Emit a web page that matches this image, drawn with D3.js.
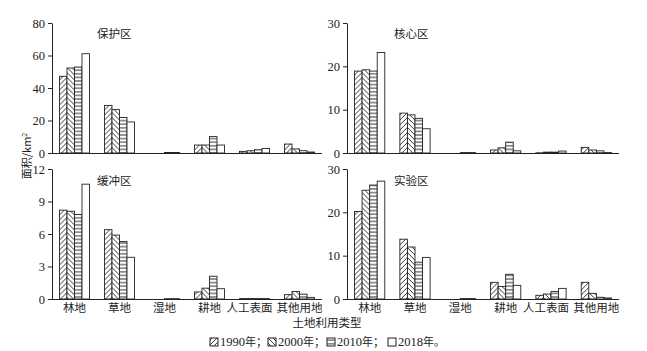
<!DOCTYPE html>
<html><head><meta charset="utf-8">
<script src="https://cdn.jsdelivr.net/npm/d3@7/dist/d3.min.js"></script>
<style>body{margin:0;background:#fff}svg{display:block}</style>
</head><body><svg id="c" width="647" height="351"></svg>
<script>
const categories = ["林地","草地","湿地","耕地","人工表面","其他用地"];
const years = ["1990年","2000年","2010年","2018年"];
const panelNames = ["保护区","核心区","缓冲区","实验区"];
const yMaxes = [80, 30, 12, 30];
const yTicks = [[0,20,40,60,80],[0,10,20,30],[0,3,6,9,12],[0,10,20,30]];
// values[category] = [1990, 2000, 2010, 2018]
const protectValues = [[47.2,52.3,52.9,61.1],[29.3,26.7,21.9,19.1],[0,0,0.3,0.3],[4.9,4.9,10.1,4.9],[1.0,1.4,2.0,2.8],[5.5,2.5,1.4,0.6]];
const coreValues = [[18.9,19.2,18.9,23.2],[9.2,8.8,8.0,5.6],[0,0,0.1,0.1],[0.7,1.2,2.5,0.5],[0.05,0.2,0.2,0.45],[1.3,0.7,0.5,0.1]];
const bufferValues = [[8.2,8.1,7.8,10.6],[6.4,5.9,5.3,3.85],[0,0,0.03,0.03],[0.65,1.0,2.1,0.95],[0.04,0.04,0.04,0.04],[0.4,0.7,0.45,0.15]];
const expValues = [[20.2,25.1,26.3,27.2],[13.8,12.0,8.5,9.6],[0,0,0.1,0.1],[3.85,2.9,5.7,3.15],[0.85,1.15,1.75,2.45],[3.85,1.3,0.4,0.25]];
const panelValues = [protectValues, coreValues, bufferValues, expValues];

const svg = d3.select("#c");
const defs = svg.append("defs");
const ink = "#222";
function hatch(id, w, h, d, color, sw){
  const p = defs.append("pattern").attr("id", id).attr("patternUnits","userSpaceOnUse")
    .attr("width", w).attr("height", h);
  p.append("rect").attr("width", w).attr("height", h).attr("fill", "#fff");
  p.append("path").attr("d", d).attr("stroke", color).attr("stroke-width", sw).attr("fill","none");
}
hatch("p1990", 5, 5, "M-1,6 L6,-1 M-1,1 L1,-1 M4,6 L6,4", ink, 0.9);
hatch("p2000", 5, 5, "M-1,-1 L6,6 M-1,4 L1,6 M4,-1 L6,1", ink, 0.9);
hatch("p2010", 4, 3.6, "M0,1.8 L4,1.8", "#444", 1.1);
const fills = ["url(#p1990)","url(#p2000)","url(#p2010)","#fff"];

const layouts = [
  {x0:52, x1:322, y0:153, y1:23, title:[97,34]},
  {x0:347, x1:619, y0:153, y1:23, title:[394,34]},
  {x0:52, x1:322, y0:299, y1:169, title:[97,181]},
  {x0:347, x1:619, y0:299, y1:169, title:[394,181]}
];
const numFont = "'Liberation Serif','DejaVu Serif',serif";
const cjkFont = "'Noto Sans CJK SC','Noto Sans CJK JP',sans-serif";

layouts.forEach((L, i) => {
  const g = svg.append("g");
  const x = d3.scaleBand().domain(categories).range([L.x0, L.x1]).paddingInner(0.333).paddingOuter(0.166);
  const xs = d3.scaleBand().domain(years).range([0, x.bandwidth()]);
  const y = d3.scaleLinear().domain([0, yMaxes[i]]).range([L.y0, L.y1]);

  const grp = g.selectAll("g.cat").data(categories).enter().append("g")
    .attr("transform", c => `translate(${x(c)},0)`);
  grp.selectAll("rect").data((c, ci) => panelValues[i][ci].map((v, yi) => ({v, yi})))
    .enter().append("rect")
    .attr("x", d => xs(years[d.yi]))
    .attr("width", xs.bandwidth())
    .attr("y", d => y(d.v))
    .attr("height", d => L.y0 - y(d.v))
    .attr("fill", d => fills[d.yi])
    .attr("stroke", ink).attr("stroke-width", 0.9);

  const ax = g.append("g").attr("transform", `translate(${L.x0},0)`)
    .call(d3.axisLeft(y).tickValues(yTicks[i]).tickSize(4).tickSizeOuter(0).tickPadding(3));
  ax.select(".domain").attr("stroke", ink);
  ax.selectAll(".tick line").attr("stroke", ink);
  ax.selectAll("text").attr("font-family", numFont).attr("font-size", 12.5).attr("fill", ink);

  g.append("line").attr("x1", L.x0).attr("x2", L.x1).attr("y1", L.y0 + 0.5).attr("y2", L.y0 + 0.5)
    .attr("stroke", ink).attr("stroke-width", 1);

  g.append("text").attr("x", L.title[0]).attr("y", L.title[1]).attr("dy", "0.35em")
    .attr("font-family", cjkFont).attr("font-size", 11.5).attr("fill", ink).text(panelNames[i]);

  if (i >= 2) {
    g.selectAll("text.cl").data(categories).enter().append("text")
      .attr("x", c => x(c) + x.bandwidth()/2 - (c === "人工表面" ? 5 : 0))
      .attr("y", L.y0 + 9).attr("dy", "0.35em").attr("text-anchor", "middle")
      .attr("font-family", cjkFont).attr("font-size", 11.5).attr("fill", ink).text(c => c);
  }
});

svg.append("text").attr("transform", "translate(27,156) rotate(-90)")
  .attr("text-anchor", "middle").attr("dy", "0.35em")
  .attr("font-family", cjkFont).attr("font-size", 11).attr("fill", ink)
  .html("面积/km<tspan dy='-4' font-size='7'>2</tspan>");

svg.append("text").attr("x", 327).attr("y", 323).attr("dy", "0.35em").attr("text-anchor", "middle")
  .attr("font-family", cjkFont).attr("font-size", 11.5).attr("fill", ink).text("土地利用类型");

// legend
const legendX = [210, 268, 327, 388];
const lg = svg.append("g");
years.forEach((yr, k) => {
  const gx = legendX[k];
  lg.append("rect").attr("x", gx).attr("y", 338).attr("width", 8).attr("height", 8)
    .attr("fill", fills[k]).attr("stroke", ink).attr("stroke-width", 1);
  const t = lg.append("text").attr("x", gx + 10).attr("y", 342).attr("dy", "0.35em")
    .attr("fill", ink).attr("font-size", 12.5);
  t.append("tspan").attr("font-family", numFont).text(yr.replace("年",""));
  t.append("tspan").attr("font-family", cjkFont).attr("font-size", 11).text(k < 3 ? "年；" : "年。");
});
</script></body></html>
